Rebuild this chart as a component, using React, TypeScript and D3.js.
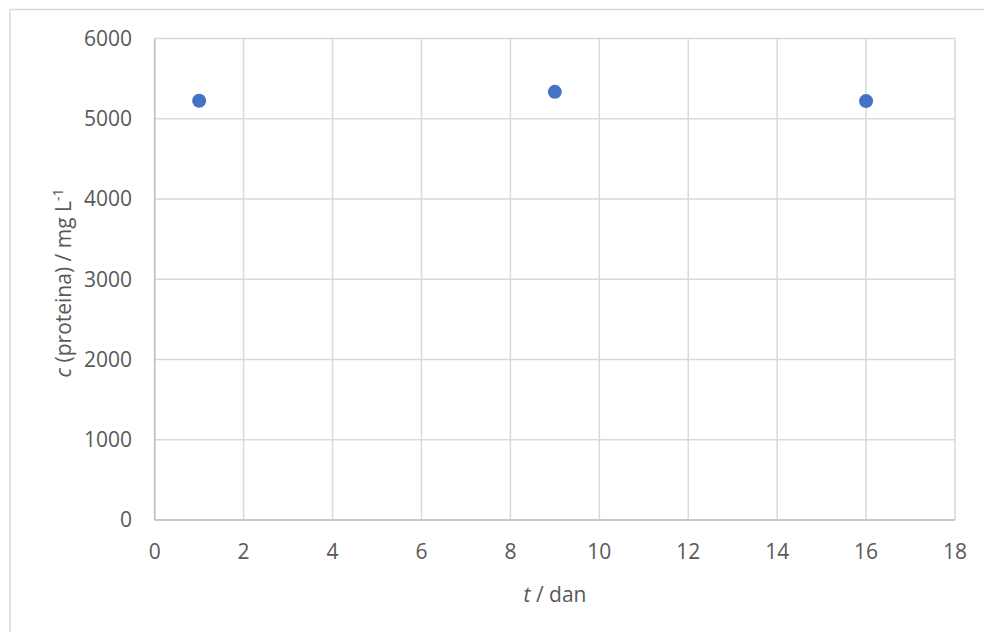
import React from "react";
import * as d3 from "d3";

const days = [1, 9, 16];
const protein = [5225, 5335, 5220];
const xTicks = [0, 2, 4, 6, 8, 10, 12, 14, 16, 18];
const yTicks = [0, 1000, 2000, 3000, 4000, 5000, 6000];

const W = 984;
const H = 632;
const FONT = "'Open Sans', sans-serif";

export default function App() {
  const x = d3.scaleLinear().domain([0, 18]).range([154.7, 955]);
  const y = d3.scaleLinear().domain([0, 6000]).range([520, 38.5]);
  const grid = "#d9d9d9";
  const txt = "#595959";
  return (
    <svg width={W} height={H} style={{ position: "absolute", left: 0, top: 0 }}>
      <rect x={0} y={0} width={W} height={H} fill="#fff" />
      <line x1={10} y1={9.5} x2={W} y2={9.5} stroke="#d9d9d9" strokeWidth={1.5} />
      <line x1={10} y1={9.5} x2={10} y2={H} stroke="#d9d9d9" strokeWidth={1.5} />
      {xTicks.map((t) => (
        <line key={"gx" + t} x1={x(t)} x2={x(t)} y1={y(0)} y2={y(6000)} stroke={grid} strokeWidth={1.5} />
      ))}
      {yTicks.map((t) => (
        <line key={"gy" + t} x1={x(0)} x2={x(18)} y1={y(t)} y2={y(t)} stroke={grid} strokeWidth={1.5} />
      ))}
      <line x1={x(0)} x2={x(18)} y1={y(0)} y2={y(0)} stroke="#bfbfbf" strokeWidth={1.5} />
      <line x1={x(0)} x2={x(0)} y1={y(0)} y2={y(6000)} stroke="#bfbfbf" strokeWidth={1.5} />
      {yTicks.map((t) => (
        <text key={"ly" + t} x={132} y={y(t)} dy="0.35em" textAnchor="end" fontFamily={FONT} fontSize={21} fill={txt}>
          {t}
        </text>
      ))}
      {xTicks.map((t) => (
        <text key={"lx" + t} x={x(t)} y={552} dy="0.35em" textAnchor="middle" fontFamily={FONT} fontSize={21} fill={txt}>
          {t}
        </text>
      ))}
      {days.map((d, i) => (
        <circle key={"p" + i} cx={x(d)} cy={y(protein[i])} r={7} fill="#4472C4" />
      ))}
      <text x={555} y={595} dy="0.35em" textAnchor="middle" fontFamily={FONT} fontSize={21} fill={txt}>
        <tspan fontStyle="italic">t</tspan>
        <tspan> / dan</tspan>
      </text>
      <text
        transform={`translate(64, 283) rotate(-90)`}
        dy="0.35em"
        textAnchor="middle"
        fontFamily={FONT}
        fontSize={21}
        fill={txt}
      >
        <tspan fontStyle="italic">c</tspan>
        <tspan> (proteina) / mg L</tspan>
        <tspan fontSize={14} dy="-8">-1</tspan>
      </text>
    </svg>
  );
}
